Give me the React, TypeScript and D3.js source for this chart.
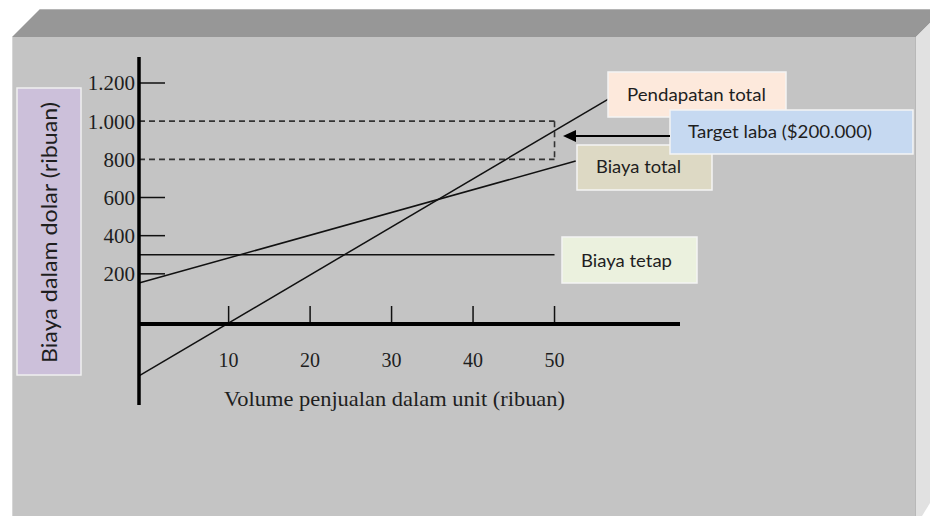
import React from 'react';
import { scaleLinear, line, formatLocale } from 'd3';

// volume in thousands of units, values in thousands of dollars
const volumeTicks = [10, 20, 30, 40, 50];
const valueTicks = [200, 400, 600, 800, 1000, 1200];
const targetBand = [800, 1000];
const targetVolume = 50;

const revenueVolume = [-1, 56.6];
const revenueValue = [-335, 1116];
const totalCostVolume = [-1, 52.6];
const totalCostValue = [152, 791];
const fixedCostVolume = [-1, 50];
const fixedCostValue = [300, 300];

const yTitle = 'Biaya dalam dolar (ribuan)';
const xTitle = 'Volume penjualan dalam unit (ribuan)';

const W = 930;
const H = 516;
const serif = '"Liberation Serif", "Times New Roman", serif';
const sans = 'Lato, "Open Sans", sans-serif';

const idFormat = formatLocale({ decimal: ',', thousands: '.', grouping: [3], currency: ['$', ''] }).format(',');

function App() {
  const xScale = scaleLinear().domain([-1, 65.4]).range([139, 680]);
  const yScale = scaleLinear().domain([0, 1200]).range([312, 83]);
  const axisY = 324;
  const axisX = xScale(-1);

  const path = line<[number, number]>()
    .x((d) => xScale(d[0]))
    .y((d) => yScale(d[1]));
  const zip = (xs: number[], ys: number[]) => xs.map((x, i) => [x, ys[i]] as [number, number]);

  const boxes = [
    { text: 'Pendapatan total', x: 608, y: 72, w: 178, h: 45, fill: '#fde9dc', tx: 627, ty: 101, tw: 139 },
    { text: 'Biaya total', x: 577, y: 145, w: 135, h: 45, fill: '#ddd9c4', tx: 596, ty: 173, tw: 85 },
    { text: 'Target laba ($200.000)', x: 670, y: 110, w: 243, h: 44, fill: '#c6d9f1', tx: 688, ty: 138, tw: 184 },
    { text: 'Biaya tetap', x: 562, y: 237, w: 135, h: 46, fill: '#ebf1de', tx: 581, ty: 267, tw: 91 },
  ];

  return (
    <svg width={W} height={H} style={{ position: 'absolute', left: 0, top: 0 }}>
      <rect width={W} height={H} fill="#fff" />
      {/* 3d panel */}
      <polygon points="40,9 930,9 930,23 916,37 12,37" fill="#979797" />
      <line x1={40} y1={9.5} x2={930} y2={9.5} stroke="#b5b5b5" strokeWidth={1} />
      <polygon points="916,37 930,23 930,503 922,516 916,516" fill="#e1e1e1" />
      <rect x={12} y={37} width={904} height={H - 37} fill="#c4c4c4" />
      <line x1={12.5} y1={37} x2={12.5} y2={H} stroke="#d6d6d6" strokeWidth={1} />
      <line x1={915.5} y1={37} x2={915.5} y2={H} stroke="#b8b8b8" strokeWidth={1} />

      {/* y title box */}
      <rect x={17} y={88} width={64} height={287} fill="#ccc0da" stroke="#efefef" strokeWidth={1.5} />
      <text
        transform={`translate(57,232.5) rotate(-90)`}
        textAnchor="middle"
        fontFamily={sans}
        fontSize={21}
        fill="#1e1e1e"
        textLength={261}
        lengthAdjust="spacingAndGlyphs"
      >
        {yTitle}
      </text>

      {/* target band (dashed) */}
      {targetBand.map((v) => (
        <line key={v} x1={axisX} x2={xScale(targetVolume)} y1={yScale(v)} y2={yScale(v)} stroke="#333" strokeWidth={1.6} strokeDasharray="6,4" />
      ))}
      <line
        x1={xScale(targetVolume)}
        x2={xScale(targetVolume)}
        y1={yScale(targetBand[1])}
        y2={yScale(targetBand[0])}
        stroke="#333"
        strokeWidth={1.6}
        strokeDasharray="6,4"
      />

      {/* y ticks */}
      {valueTicks.map((v) => (
        <g key={v}>
          {!targetBand.includes(v) && (
            <line x1={axisX} x2={axisX + 26} y1={yScale(v)} y2={yScale(v)} stroke="#111" strokeWidth={1.5} />
          )}
          <text x={135} y={yScale(v)} dy="0.35em" textAnchor="end" fontFamily={serif} fontSize={21} fill="#1e1e1e">
            {idFormat(v)}
          </text>
        </g>
      ))}

      {/* x ticks */}
      {volumeTicks.map((v) => (
        <g key={v}>
          <line x1={xScale(v)} x2={xScale(v)} y1={axisY - 18} y2={axisY} stroke="#111" strokeWidth={1.5} />
          <text x={xScale(v)} y={367} textAnchor="middle" fontFamily={serif} fontSize={20} fill="#1e1e1e">
            {v}
          </text>
        </g>
      ))}
      <text x={224} y={406} fontFamily={serif} fontSize={21} fill="#1e1e1e" textLength={341} lengthAdjust="spacingAndGlyphs">
        {xTitle}
      </text>

      {/* series */}
      <path d={path(zip(fixedCostVolume, fixedCostValue)) || ''} fill="none" stroke="#111" strokeWidth={1.5} />
      <path d={path(zip(totalCostVolume, totalCostValue)) || ''} fill="none" stroke="#111" strokeWidth={1.5} />
      <path d={path(zip(revenueVolume, revenueValue)) || ''} fill="none" stroke="#111" strokeWidth={1.5} />

      {/* axes */}
      <line x1={axisX} x2={axisX} y1={57} y2={405} stroke="#000" strokeWidth={3.5} />
      <line x1={axisX} x2={xScale(65.4)} y1={axisY} y2={axisY} stroke="#000" strokeWidth={4} />

      {/* labels */}
      {boxes.map((b) => (
        <g key={b.text}>
          <rect x={b.x} y={b.y} width={b.w} height={b.h} fill={b.fill} stroke="#f4f4f4" strokeWidth={1.5} />
          <text x={b.tx} y={b.ty} fontFamily={sans} fontSize={18} fill="#1e1e1e" textLength={b.tw} lengthAdjust="spacingAndGlyphs">
            {b.text}
          </text>
        </g>
      ))}

      {/* arrow to target band */}
      <line x1={670} x2={574} y1={136} y2={136} stroke="#000" strokeWidth={2} />
      <polygon points="563,136 576,130 576,142" fill="#000" />
    </svg>
  );
}

export default App;
